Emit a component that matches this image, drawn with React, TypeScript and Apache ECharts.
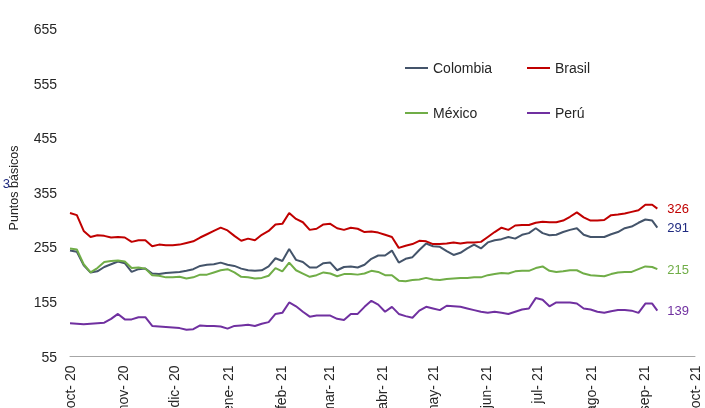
import React, { useEffect, useRef } from "react";
import * as echarts from "echarts";

const fechas = [
  "2020-10-01", "2020-10-05", "2020-10-09", "2020-10-13", "2020-10-17", "2020-10-21", "2020-10-25", "2020-10-29",
  "2020-11-02", "2020-11-06", "2020-11-10", "2020-11-14", "2020-11-18", "2020-11-22", "2020-11-26", "2020-11-30",
  "2020-12-04", "2020-12-08", "2020-12-12", "2020-12-16", "2020-12-20", "2020-12-24", "2020-12-28",
  "2021-01-01", "2021-01-05", "2021-01-09", "2021-01-13", "2021-01-17", "2021-01-21", "2021-01-25", "2021-01-29",
  "2021-02-02", "2021-02-06", "2021-02-10", "2021-02-14", "2021-02-18", "2021-02-22", "2021-02-26",
  "2021-03-02", "2021-03-06", "2021-03-10", "2021-03-14", "2021-03-18", "2021-03-22", "2021-03-26", "2021-03-30",
  "2021-04-03", "2021-04-07", "2021-04-11", "2021-04-15", "2021-04-19", "2021-04-23", "2021-04-27",
  "2021-05-01", "2021-05-05", "2021-05-09", "2021-05-13", "2021-05-17", "2021-05-21", "2021-05-25", "2021-05-29",
  "2021-06-02", "2021-06-06", "2021-06-10", "2021-06-14", "2021-06-18", "2021-06-22", "2021-06-26", "2021-06-30",
  "2021-07-04", "2021-07-08", "2021-07-12", "2021-07-16", "2021-07-20", "2021-07-24", "2021-07-28",
  "2021-08-01", "2021-08-05", "2021-08-09", "2021-08-13", "2021-08-17", "2021-08-21", "2021-08-25", "2021-08-29",
  "2021-09-02", "2021-09-06", "2021-09-09",
];

const brasil = [
  318, 314, 285, 274, 277, 276, 273, 274, 273, 265, 268, 268, 257, 260, 259, 259, 260, 263, 266, 273, 279, 285, 291, 286, 276, 267,
  271, 268, 278, 285, 297, 298, 318, 307, 301, 287, 289, 297, 298, 290, 287, 291, 289, 283, 284, 282, 278, 274, 254, 258, 261,
  267, 266, 261, 261, 262, 264, 262, 264, 264, 265, 274, 283, 291, 287, 295, 296, 296, 300, 302, 301, 301,
  304, 311, 319, 310, 304, 304, 305, 314, 315, 317, 320, 323, 333, 333, 326,
];

const colombia = [
  249, 247, 222, 209, 211, 219, 224, 229, 226, 210, 215, 216, 207, 206, 208, 209, 210, 212, 215, 221, 223, 224, 227, 223, 221, 216,
  213, 212, 213, 220, 235, 230, 252, 232, 228, 218, 218, 226, 227, 213, 219, 220, 218, 223, 234, 240, 240, 249, 227, 234, 237,
  250, 262, 257, 256, 248, 241, 245, 253, 260, 253, 264, 268, 270, 274, 271, 278, 281, 290, 281, 277, 278,
  283, 287, 290, 278, 274, 274, 274, 279, 283, 290, 293, 300, 306, 304, 291,
];

const mexico = [
  253, 251, 224, 209, 217, 228, 230, 231, 229, 217, 218, 216, 204, 203, 200, 200, 201, 198, 200, 205, 205, 209, 213, 215, 209, 201,
  200, 198, 199, 203, 217, 211, 227, 213, 207, 201, 204, 209, 207, 202, 206, 206, 205, 207, 212, 210, 204, 204, 194, 193, 195,
  196, 199, 196, 195, 197, 198, 199, 199, 200, 200, 204, 206, 208, 207, 211, 212, 212, 217, 220, 212, 210,
  211, 213, 213, 207, 204, 203, 202, 206, 209, 210, 210, 215, 220, 219, 215,
];

const peru = [
  116, 115, 114, 115, 116, 117, 124, 133, 123, 123, 127, 127, 111, 110, 109, 108, 107, 104, 105, 112, 111, 111, 110, 106, 111, 112,
  113, 111, 115, 118, 133, 135, 154, 147, 137, 128, 130, 130, 130, 124, 122, 133, 133, 146, 157, 150, 137, 146, 133, 129, 126,
  139, 146, 143, 140, 148, 147, 146, 143, 140, 137, 135, 137, 135, 133, 137, 141, 143, 162, 159, 147, 154,
  154, 154, 152, 143, 141, 137, 135, 138, 140, 140, 139, 135, 152, 152, 139,
];

const yTicks = [55, 155, 255, 355, 455, 555, 655];
const meses = ["ene", "feb", "mar", "abr", "may", "jun", "jul", "ago", "sep", "oct", "nov", "dic"];
const nombres = ["Colombia", "Brasil", "México", "Perú"];
const colores = ["#44546A", "#C00000", "#70AD47", "#7030A0"];
const coloresEtiqueta = ["#1F2A80", "#C00000", "#70AD47", "#7030A0"];

const FONT = "Liberation Sans, Arial, sans-serif";

export default function App() {
  const ref = useRef<HTMLDivElement>(null);
  useEffect(() => {
    const chart = echarts.init(ref.current!, null, { renderer: "svg" });
    const DAY = 86400000;
    const base = Date.parse("2020-10-01");
    const end = Date.parse("2021-10-01");
    const dias: string[] = [];
    for (let t = base; t <= end; t += DAY) dias.push(new Date(t).toISOString().slice(0, 10));
    const idx = (s: string) => Math.round((Date.parse(s) - base) / DAY);
    const datos = [colombia, brasil, mexico, peru];

    const legendPos = [
      { left: 405, top: 61 },
      { left: 527, top: 61 },
      { left: 405, top: 106 },
      { left: 527, top: 106 },
    ];

    chart.setOption({
      animation: false,
      textStyle: { fontFamily: FONT },
      grid: { left: 70, right: 10, top: 29, bottom: 51.5, outerBoundsMode: "none", containLabel: false },
      legend: nombres.map((n, i) => ({
        data: [n],
        left: legendPos[i].left,
        top: legendPos[i].top,
        padding: 0,
        icon: "rect",
        itemWidth: 23,
        itemHeight: 2,
        selectedMode: false,
        textStyle: { fontSize: 14, color: "#262626", fontFamily: FONT },
      })),
      xAxis: {
        type: "category",
        data: dias,
        boundaryGap: false,
        axisLine: { lineStyle: { color: "#A6A6A6", width: 1 } },
        axisTick: { show: false },
        splitLine: { show: false },
        axisLabel: {
          interval: (_i: number, v: string) => v.endsWith("-01"),
          rotate: 90,
          margin: 9,
          fontSize: 14,
          color: "#262626",
          fontFamily: FONT,
          formatter: (v: string) => meses[+v.slice(5, 7) - 1] + "- " + v.slice(2, 4),
        },
      },
      yAxis: {
        type: "value",
        min: 55,
        max: 655,
        interval: 100,
        axisLine: { show: false },
        axisTick: { show: false },
        splitLine: { show: false },
        axisLabel: {
          customValues: yTicks,
          margin: 13,
          fontSize: 14,
          color: "#262626",
          fontFamily: FONT,
        },
      },
      graphic: [
        {
          type: "text",
          x: 14,
          y: 188,
          rotation: Math.PI / 2,
          style: {
            text: "Puntos básicos",
            align: "center",
            verticalAlign: "middle",
            fontSize: 12.5,
            fill: "#262626",
            fontFamily: FONT,
          },
        },
        {
          type: "text",
          x: 10,
          y: 183,
          style: {
            text: "3",
            align: "right",
            verticalAlign: "middle",
            fontSize: 13,
            fill: "#1F2A80",
            fontFamily: FONT,
          },
        },
      ],
      series: nombres.map((n, i) => ({
        name: n,
        type: "line",
        color: colores[i],
        symbol: "none",
        lineStyle: { width: 2, color: colores[i] },
        data: fechas.map((f, k) => [idx(f), datos[i][k]]),
        endLabel: {
          show: true,
          distance: 10,
          fontSize: 13,
          color: coloresEtiqueta[i],
          fontFamily: FONT,
          formatter: (p: any) => String(p.value[1]),
        },
      })),
    });
    return () => chart.dispose();
  }, []);
  return <div ref={ref} style={{ position: "fixed", left: 0, top: 0, width: 705, height: 408 }} />;
}
